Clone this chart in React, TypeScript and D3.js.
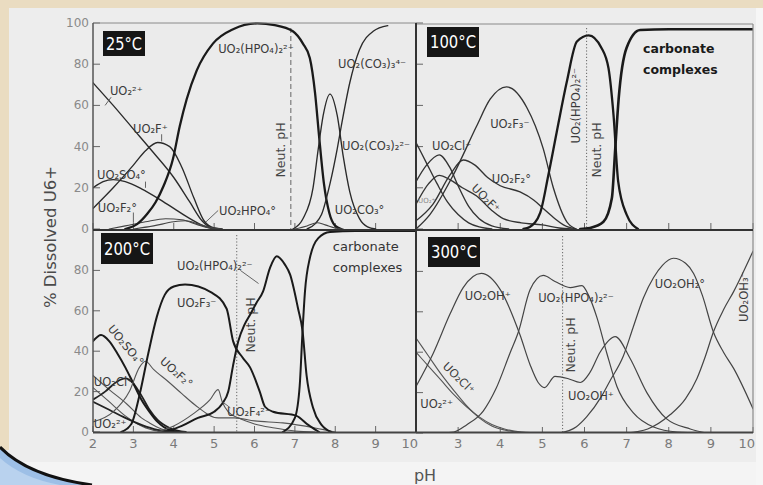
import React from "react";
import * as d3 from "d3";

type Pt = [number, number];

// ---------------- 25 °C ----------------
const t25_UO2: Pt[] = [[2,71],[2.5,60],[3,48.5],[3.5,37],[4,25],[4.4,13],[4.7,4],[4.9,0.8],[5.1,0]];
const t25_UO2F: Pt[] = [[2,10],[2.5,20],[3,31],[3.3,38],[3.6,42],[3.9,40],[4.2,30],[4.5,15],[4.75,4],[5,0.5],[5.2,0]];
const t25_UO2SO4: Pt[] = [[2,20],[2.25,23],[2.5,24],[2.8,23],[3.2,19.5],[3.6,15],[4,10],[4.4,5],[4.8,1],[5,0]];
const t25_UO2F2: Pt[] = [[2.4,0],[2.8,1.5],[3.3,3.5],[3.8,5],[4.2,4.5],[4.6,2],[4.9,0.5],[5.1,0]];
const t25_UO2HPO4: Pt[] = [[3,0],[3.5,1.5],[4,3.5],[4.3,4],[4.6,2.5],[4.9,0.8],[5.2,0]];
const t25_UO2HPO42: Pt[] = [[2.8,0],[3.1,2.5],[3.35,7.5],[3.55,13],[3.75,21],[3.98,34],[4.15,50],[4.32,63],[4.57,77],[4.97,90],[5.47,97],[6.07,99.8],[6.5,99],[6.95,96],[7.2,90],[7.37,83],[7.5,66],[7.6,45],[7.72,22],[7.85,8],[8.0,1.5],[8.15,0]];
const t25_UO2CO32: Pt[] = [[6.95,0],[7.2,5],[7.45,20],[7.58,39],[7.7,55],[7.87,65.5],[8.05,55],[8.2,35],[8.36,18],[8.6,5],[8.8,1],[9,0]];
const t25_UO2CO33: Pt[] = [[7.3,0],[7.5,2.5],[7.66,7],[7.87,22],[8.05,39],[8.15,50],[8.36,71],[8.6,87],[8.94,96],[9.3,98.7]];
const t25_UO2CO3: Pt[] = [[7.0,0],[7.3,1.5],[7.55,3],[7.75,2],[8.0,0.5],[8.2,0]];

// ---------------- 100 °C ----------------
const t100_UO2: Pt[] = [[2,42],[2.25,32],[2.5,22],[2.75,13],[3,7],[3.25,3],[3.5,1],[3.8,0]];
const t100_UO2Cl: Pt[] = [[2,23],[2.25,31],[2.55,36],[2.8,30],[3.0,21],[3.25,11],[3.5,5],[3.8,1.5],[4.2,0]];
const t100_UO2F: Pt[] = [[2,12],[2.3,22],[2.55,26],[2.8,24],[3.1,20],[3.44,16],[3.8,9],[4.07,5],[4.5,3],[5,2],[5.4,0.5],[5.7,0]];
const t100_UO2F2: Pt[] = [[2,4],[2.4,12],[2.8,26],[3.12,33.5],[3.4,31],[3.7,25],[4.0,21],[4.47,18],[4.8,14],[5.02,10],[5.3,5],[5.5,2],[5.8,0]];
const t100_UO2F3: Pt[] = [[2,0],[2.33,7],[2.88,26],[3.44,50],[3.76,63],[4.15,69],[4.63,59],[5.02,39],[5.26,20],[5.58,3.5],[5.8,0]];
const t100_UO2HPO42: Pt[] = [[4.55,0],[4.7,1],[4.95,8],[5.14,26],[5.34,47],[5.58,71.5],[5.82,91],[6.1,94],[6.4,88],[6.57,78],[6.69,55],[6.8,23],[7.0,7],[7.27,0]];
const t100_CARB: Pt[] = [[5.9,0],[6.13,0.5],[6.45,3.5],[6.65,15],[6.73,39],[6.81,63],[7.0,88],[7.32,96.6],[8,97],[10,97]];

// ---------------- 200 °C ----------------
const t200_UO2: Pt[] = [[2,28],[2.4,21],[2.83,14],[3.2,7],[3.4,4.5],[3.7,1.5],[4,0]];
const t200_UO2Cl: Pt[] = [[2,22],[2.4,15],[2.8,8],[3.2,3],[3.6,0.5],[4,0]];
const t200_UO2p: Pt[] = [[2,15],[2.4,11],[2.8,7],[3.2,3.5],[3.6,1],[4,0]];
const t200_UO2F: Pt[] = [[2,16],[2.3,20],[2.6,25],[2.8,26.5],[3.0,24],[3.2,18],[3.4,11],[3.6,6],[3.9,2],[4.3,0]];
const t200_UO2SO4: Pt[] = [[2,45],[2.2,48],[2.4,45],[2.6,39],[2.8,32],[3.0,24],[3.2,16],[3.4,10],[3.6,5],[3.9,1],[4.2,0]];
const t200_UO2F2: Pt[] = [[2,5],[2.5,10],[2.9,20],[3.15,32],[3.3,35],[3.5,31],[3.86,25],[4.2,19],[4.52,13.5],[5.1,7],[5.5,7],[6.0,5.5],[6.7,4.5],[7.5,2],[8,0]];
const t200_UO2F4: Pt[] = [[3.6,0],[4.0,3],[4.48,9],[4.9,16],[5.1,21],[5.2,15],[5.35,10],[5.6,7],[6.0,4],[6.5,2],[7,0.5],[7.5,0]];
const t200_UO2F3: Pt[] = [[2.7,0],[2.95,4],[3.16,19],[3.37,39],[3.58,57],[3.78,68],[4.0,72],[4.28,73],[4.94,69],[5.31,61],[5.47,45],[5.7,37],[5.89,32],[6.13,20],[6.26,12.5],[6.46,10],[7.04,8],[7.33,3.5],[7.6,0]];
const t200_UO2HPO42: Pt[] = [[3.8,0],[4.2,3],[4.6,7],[5.0,10],[5.2,14],[5.35,20],[5.47,33],[5.6,45],[5.75,53],[5.89,58],[6.05,64],[6.21,69.5],[6.38,81],[6.55,87],[6.75,83],[6.88,78],[7.08,61],[7.19,50],[7.29,28],[7.45,12],[7.66,3.5],[7.9,0]];
const t200_CARB: Pt[] = [[6.7,0],[7.0,7],[7.12,23],[7.19,50],[7.25,69.5],[7.37,86],[7.58,96],[7.87,99],[8.5,99.5],[10,99.5]];

// ---------------- 300 °C ----------------
const t300_UO2: Pt[] = [[2,47],[2.3,38],[2.6,29],[2.9,21],[3.2,13.5],[3.5,7.5],[3.8,3.5],[4.1,1.5],[4.5,0.3],[5,0]];
const t300_UO2Cl: Pt[] = [[2,40],[2.3,33],[2.6,26],[2.9,19],[3.2,13],[3.5,8],[3.8,4.2],[4.1,2],[4.5,0.5],[5,0]];
const t300_UO2OH: Pt[] = [[2,23],[2.41,39.5],[2.81,59],[3.12,72],[3.55,79],[4.0,71],[4.47,48.5],[4.71,33.7],[4.9,25],[5.05,22.5],[5.3,28],[5.6,27],[5.9,25],[6.13,30],[6.37,40],[6.73,47.7],[7.08,37],[7.48,20],[7.95,7],[8.51,2],[8.9,0]];
const t300_UO2HPO42: Pt[] = [[2.6,0],[2.9,0.5],[3.2,4],[3.6,11],[3.9,22],[4.23,39.5],[4.43,50],[4.71,71],[5.02,78],[5.3,75],[5.66,72],[5.94,73],[6.1,68],[6.29,57.5],[6.53,39.5],[6.77,23],[7.16,10],[7.64,3],[8.2,0.5],[8.8,0]];
const t300_UO2OH2: Pt[] = [[5.4,0],[5.8,3],[6.05,8],[6.4,18],[6.61,26],[6.92,38],[7.15,52],[7.4,67],[7.64,77],[7.85,83],[8.11,86.5],[8.4,84],[8.59,79],[8.8,68],[9.06,50],[9.3,40],[9.54,32],[10,12]];
const t300_UO2OH3: Pt[] = [[7.0,0],[7.5,2],[8.03,9],[8.4,17],[8.67,27],[8.87,38],[9.06,50],[9.3,61],[9.54,70],[10,90]];

// ---------------- ticks / axis text ----------------
const pHTicks = [2, 3, 4, 5, 6, 7, 8, 9, 10];
const pHTicksRight = [3, 4, 5, 6, 7, 8, 9, 10];
const pctTicksTop = [0, 20, 40, 60, 80, 100];
const pctTicksBottom = [0, 20, 40, 60, 80];
const yTitle = "% Dissolved U6+";
const xTitle = "pH";

type Series = { data: Pt[]; w: number; c: string };
type Label = { t: string; ph: number; v: number; rot?: number; anchor?: string; size?: number };
type Panel = {
  x0: number; x1: number; yTop: number; yBot: number;
  temp: string; box: [number, number, number, number];
  neut: number; neutDash: string;
  series: Series[]; labels: Label[];
  neutLabel: [number, number];
  carb?: { ph: number; v: number; bold: boolean; size: number };
  leaders?: [number, number, number, number][];
};

const THICK = 2.3, MED = 1.35, THIN = 1.1;

const panels: Panel[] = [
  {
    x0: 93, x1: 416, yTop: 23, yBot: 229, temp: "25°C", box: [103, 31, 42, 25],
    neut: 6.9, neutDash: "5,3", neutLabel: [285, 150],
    series: [
      { data: t25_UO2, w: MED, c: "#2a2a2a" },
      { data: t25_UO2F, w: MED, c: "#2a2a2a" },
      { data: t25_UO2SO4, w: MED, c: "#2a2a2a" },
      { data: t25_UO2F2, w: THIN, c: "#444" },
      { data: t25_UO2HPO4, w: THIN, c: "#444" },
      { data: t25_UO2HPO42, w: THICK, c: "#1a1a1a" },
      { data: t25_UO2CO32, w: MED, c: "#2a2a2a" },
      { data: t25_UO2CO33, w: MED, c: "#2a2a2a" },
      { data: t25_UO2CO3, w: THIN, c: "#444" },
    ],
    labels: [
      { t: "UO₂²⁺", ph: 2.42, v: 65 },
      { t: "UO₂F⁺", ph: 2.99, v: 46.6 },
      { t: "UO₂SO₄°", ph: 2.1, v: 24.5 },
      { t: "UO₂F₂°", ph: 2.12, v: 8.3 },
      { t: "UO₂HPO₄°", ph: 5.12, v: 6.8 },
      { t: "UO₂(HPO₄)₂²⁻", ph: 5.1, v: 85.4 },
      { t: "UO₂(CO₃)₃⁴⁻", ph: 8.07, v: 78 },
      { t: "UO₂(CO₃)₂²⁻", ph: 8.17, v: 38.3 },
      { t: "UO₂CO₃°", ph: 7.99, v: 7.3 },
    ],
    leaders: [[2.45, 64, 2.3, 60], [3.7, 46, 3.7, 42.5], [3.3, 23, 3.3, 20], [3.0, 8, 3.0, 3], [5.1, 9, 4.8, 3.5]],
  },
  {
    x0: 416, x1: 753, yTop: 23, yBot: 229, temp: "100°C", box: [427, 27, 52, 30],
    neut: 6.05, neutDash: "1.2,2", neutLabel: [601, 150],
    series: [
      { data: t100_UO2, w: MED, c: "#333" },
      { data: t100_UO2Cl, w: MED, c: "#333" },
      { data: t100_UO2F, w: MED, c: "#333" },
      { data: t100_UO2F2, w: MED, c: "#333" },
      { data: t100_UO2F3, w: MED, c: "#333" },
      { data: t100_UO2HPO42, w: THICK, c: "#1a1a1a" },
      { data: t100_CARB, w: THICK + 0.3, c: "#1a1a1a" },
    ],
    labels: [
      { t: "UO₂Cl⁺", ph: 2.38, v: 38.3 },
      { t: "UO₂F₃⁻", ph: 3.76, v: 49 },
      { t: "UO₂F₂°", ph: 3.8, v: 22.3 },
      { t: "UO₂F⁺", ph: 3.3, v: 19.5, rot: 45 },
      { t: "UO₂(HPO₄)₂²⁻", ph: 5.9, v: 41.5, rot: -90 },
      { t: "UO₂⁺", ph: 2.05, v: 12.5, size: 7 },
    ],
    carb: { ph: 7.39, v: 85.4, bold: true, size: 12.5 },
  },
  {
    x0: 93, x1: 416, yTop: 230, yBot: 432, temp: "200°C", box: [101, 233, 52, 31],
    neut: 5.56, neutDash: "1.2,2", neutLabel: [255, 325],
    series: [
      { data: t200_UO2, w: THIN, c: "#555" },
      { data: t200_UO2Cl, w: THIN, c: "#555" },
      { data: t200_UO2p, w: 1.8, c: "#222" },
      { data: t200_UO2F, w: 1.8, c: "#222" },
      { data: t200_UO2SO4, w: 2.0, c: "#1a1a1a" },
      { data: t200_UO2F2, w: THIN, c: "#555" },
      { data: t200_UO2F4, w: THIN, c: "#555" },
      { data: t200_UO2F3, w: 2.0, c: "#1a1a1a" },
      { data: t200_UO2HPO42, w: 2.0, c: "#1a1a1a" },
      { data: t200_CARB, w: 2.0, c: "#1a1a1a" },
    ],
    labels: [
      { t: "UO₂(HPO₄)₂²⁻", ph: 4.08, v: 80.2 },
      { t: "UO₂F₃⁻", ph: 4.08, v: 61.9 },
      { t: "UO₂SO₄°", ph: 2.35, v: 51, rot: 50 },
      { t: "UO₂F₂°", ph: 3.64, v: 34.5, rot: 42 },
      { t: "UO₂Cl⁺", ph: 2.02, v: 23 },
      { t: "UO₂²⁺", ph: 2.02, v: 2.2 },
      { t: "UO₂F₄²⁻", ph: 5.32, v: 7.9 },
    ],
    carb: { ph: 7.94, v: 89.6, bold: false, size: 13 },
    leaders: [[5.65, 80, 6.1, 73.5], [5.4, 12, 5.2, 15]],
  },
  {
    x0: 416, x1: 753, yTop: 231, yBot: 433, temp: "300°C", box: [428, 237, 52, 30],
    neut: 5.48, neutDash: "1.2,2", neutLabel: [575, 345],
    series: [
      { data: t300_UO2, w: THIN, c: "#555" },
      { data: t300_UO2Cl, w: THIN, c: "#555" },
      { data: t300_UO2OH, w: 1.2, c: "#444" },
      { data: t300_UO2HPO42, w: 1.2, c: "#444" },
      { data: t300_UO2OH2, w: 1.2, c: "#444" },
      { data: t300_UO2OH3, w: 1.2, c: "#444" },
    ],
    labels: [
      { t: "UO₂OH⁺", ph: 3.16, v: 65.8 },
      { t: "UO₂(HPO₄)₂²⁻", ph: 4.9, v: 64.9 },
      { t: "UO₂OH₂°", ph: 7.67, v: 71.8 },
      { t: "UO₂OH₃⁻", ph: 9.88, v: 55, rot: -90 },
      { t: "UO₂OH⁺", ph: 5.61, v: 16.3 },
      { t: "UO₂²⁺", ph: 2.1, v: 12.4 },
      { t: "UO₂Cl⁺", ph: 2.62, v: 32.7, rot: 45 },
    ],
  },
];

const FONT = "'DejaVu Sans', Verdana, sans-serif";

function PanelView({ p, i }: { p: Panel; i: number }) {
  const x = d3.scaleLinear().domain([2, 10]).range([p.x0, p.x1]);
  const y = d3.scaleLinear().domain([0, 100]).range([p.yBot, p.yTop]);
  const line = d3
    .line<Pt>()
    .x((d) => x(d[0]))
    .y((d) => y(d[1]))
    .curve(d3.curveMonotoneX);
  const cid = `clip${i}`;
  const yT = p.yTop < 100 ? pctTicksTop : pctTicksBottom;
  return (
    <g>
      <defs>
        <clipPath id={cid}>
          <rect x={p.x0} y={p.yTop - 3} width={p.x1 - p.x0} height={p.yBot - p.yTop + 3} />
        </clipPath>
      </defs>
      {yT.map((t) => (
        <line key={"yt" + t} x1={p.x0} x2={p.x0 + 7} y1={y(t)} y2={y(t)} stroke="#666" strokeWidth={1} />
      ))}
      {pHTicks.map((t) => (
        <line key={"xt" + t} x1={x(t)} x2={x(t)} y1={p.yBot} y2={p.yBot - 6} stroke="#666" strokeWidth={1} />
      ))}
      <line x1={x(p.neut)} x2={x(p.neut)} y1={p.yTop + 5} y2={p.yBot} stroke="#666" strokeWidth={1} strokeDasharray={p.neutDash} />
      <text
        transform={`translate(${p.neutLabel[0]},${p.neutLabel[1]}) rotate(-90)`}
        textAnchor="middle"
        fontFamily={FONT}
        fontSize={12.5}
        fill="#444"
      >
        Neut. pH
      </text>
      <g clipPath={`url(#${cid})`}>
        {p.series.map((s, k) => (
          <path key={k} d={line(s.data) || ""} fill="none" stroke={s.c} strokeWidth={s.w} strokeLinejoin="round" strokeLinecap="round" />
        ))}
      </g>
      {(p.leaders || []).map((l, k) => (
        <line key={"ld" + k} x1={x(l[0])} y1={y(l[1])} x2={x(l[2])} y2={y(l[3])} stroke="#555" strokeWidth={0.9} />
      ))}
      {p.labels.map((l, k) => (
        <text
          key={"lb" + k}
          transform={`translate(${x(l.ph)},${y(l.v)})${l.rot ? ` rotate(${l.rot})` : ""}`}
          fontFamily={FONT}
          fontSize={l.size || 11.5}
          fill={l.size ? "#888" : "#3a3a3a"}
          textAnchor={l.anchor || "start"}
        >
          {l.t}
        </text>
      ))}
      <rect x={p.box[0]} y={p.box[1]} width={p.box[2]} height={p.box[3]} fill="#161616" />
      <text
        x={p.box[0] + p.box[2] / 2}
        y={p.box[1] + p.box[3] / 2 + 6}
        textAnchor="middle"
        fontFamily={FONT}
        fontSize={17}
        fill="#fff"
        textLength={p.box[2] - 6}
        lengthAdjust="spacingAndGlyphs"
      >
        {p.temp}
      </text>
      {p.carb && (
        <g fontFamily={FONT} fontSize={p.carb.size} fontWeight={p.carb.bold ? "bold" : "normal"} fill={p.carb.bold ? "#1a1a1a" : "#333"}>
          <text x={x(p.carb.ph)} y={y(p.carb.v)}>carbonate</text>
          <text x={x(p.carb.ph)} y={y(p.carb.v) + 21}>complexes</text>
        </g>
      )}
    </g>
  );
}

export default function App() {
  const xL = d3.scaleLinear().domain([2, 10]).range([93, 416]);
  const xR = d3.scaleLinear().domain([2, 10]).range([416, 753]);
  const yTopS = d3.scaleLinear().domain([0, 100]).range([229, 23]);
  const yBotS = d3.scaleLinear().domain([0, 100]).range([432, 230]);
  return (
    <svg
      width={763}
      height={485}
      viewBox="0 0 763 485"
      style={{ position: "absolute", left: 0, top: 0, display: "block" }}
    >
      <rect x={0} y={0} width={763} height={485} fill="#ededed" />
      <rect x={0} y={462} width={763} height={23} fill="#f4f4f4" />
      <rect x={756} y={0} width={7} height={485} fill="#f6f6f6" />
      <rect x={0} y={0} width={763} height={8} fill="#eadcc1" />
      <rect x={0} y={0} width={9} height={450} fill="#eadcc1" />
      <path d="M0,447 Q28,476 92,485 L0,485 Z" fill="#9dbfe6" />
      <path d="M0,458 Q22,478 60,485 L0,485 Z" fill="#b9d2ee" />
      <path d="M0,447 Q28,476 92,485" fill="none" stroke="#111" strokeWidth={3} />

      <rect x={93} y={23} width={660} height={409} fill="#ebebeb" />

      {panels.map((p, i) => (
        <PanelView key={i} p={p} i={i} />
      ))}

      <line x1={93} x2={416} y1={23} y2={23} stroke="#8a8a8a" strokeWidth={1} />
      <line x1={416} x2={753} y1={24} y2={24} stroke="#8a8a8a" strokeWidth={1} />
      <line x1={753} x2={753} y1={24} y2={433} stroke="#8a8a8a" strokeWidth={1.2} />
      <line x1={93} x2={93} y1={23} y2={432} stroke="#555" strokeWidth={1.5} />
      <line x1={416} x2={416} y1={23} y2={433} stroke="#333" strokeWidth={2} />
      <line x1={93} x2={753} y1={230} y2={230} stroke="#333" strokeWidth={2} />
      <line x1={93} x2={753} y1={432.5} y2={432.5} stroke="#444" strokeWidth={2} />

      <g fontFamily={FONT} fontSize={12} fill="#8a8a8a" textAnchor="end">
        {pctTicksTop.map((t) => (
          <text key={"a" + t} x={89} y={yTopS(t) + 4}>{t}</text>
        ))}
        {pctTicksBottom.map((t) => (
          <text key={"b" + t} x={89} y={yBotS(t) + 4}>{t}</text>
        ))}
      </g>
      <g fontFamily={FONT} fontSize={13} fill="#7a7a7a">
        {pHTicks.map((t) => (
          <text key={"l" + t} x={t === 10 ? xL(t) + 2 : xL(t)} y={448} textAnchor={t === 10 ? "end" : "middle"}>{t}</text>
        ))}
        {pHTicksRight.map((t) => (
          <text key={"r" + t} x={t === 10 ? xR(t) + 2 : xR(t)} y={448} textAnchor={t === 10 ? "end" : "middle"}>{t}</text>
        ))}
      </g>
      <text
        transform="translate(56,237) rotate(-90)"
        textAnchor="middle"
        fontFamily={FONT}
        fontSize={16.5}
        fill="#4a4a4a"
      >
        {yTitle}
      </text>
      <text x={425} y={481} textAnchor="middle" fontFamily={FONT} fontSize={16} fill="#555">
        {xTitle}
      </text>
    </svg>
  );
}
